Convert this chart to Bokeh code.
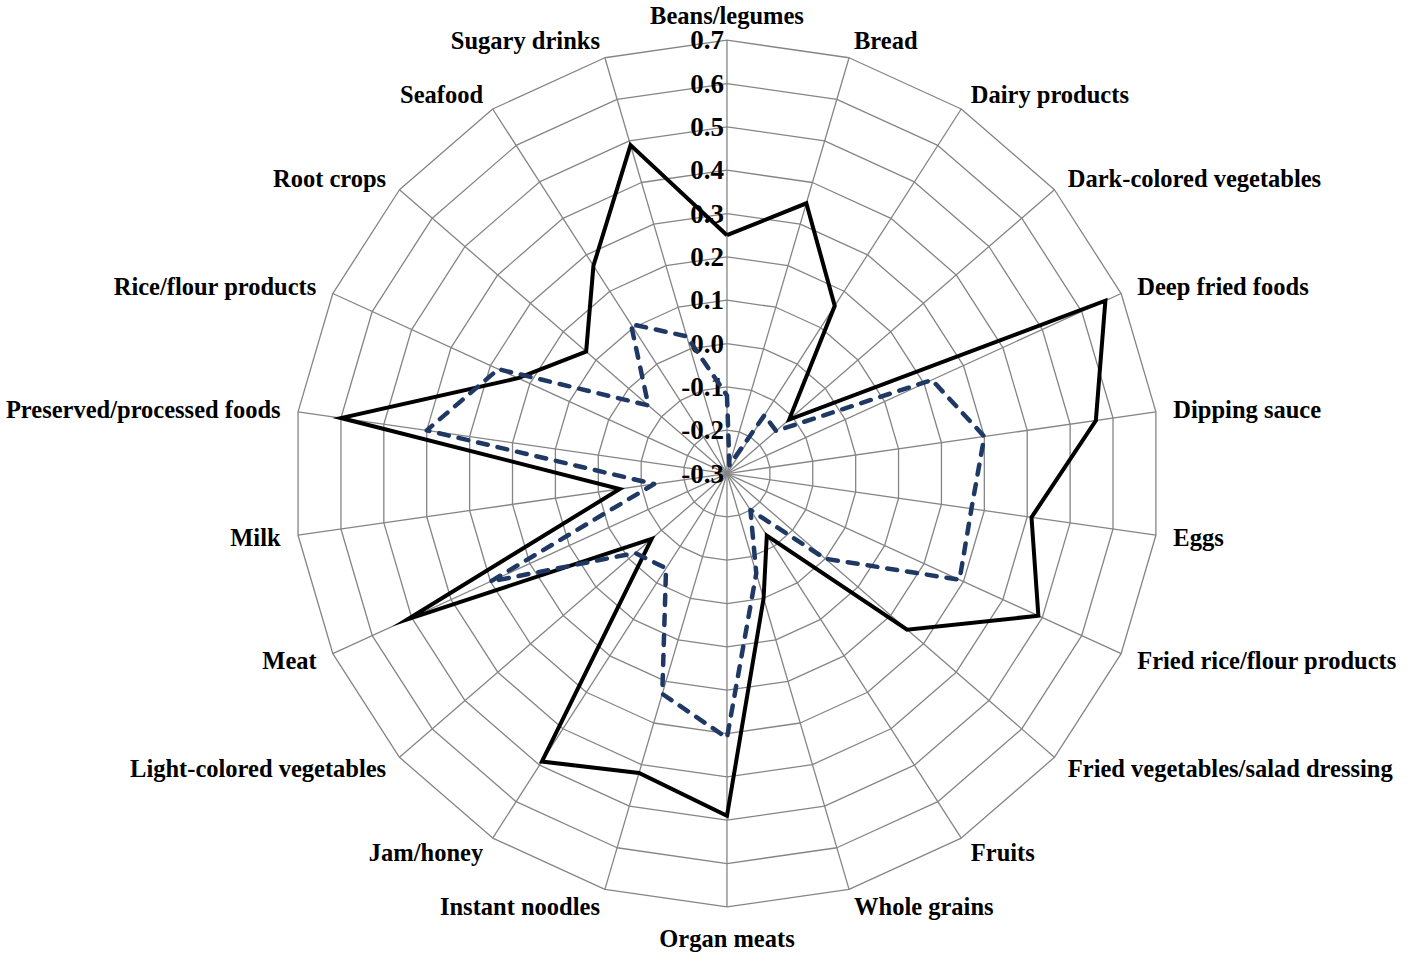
import numpy as np
from bokeh.plotting import figure
from bokeh.models import Range1d, ColumnDataSource
from bokeh.embed import file_html
from bokeh.resources import INLINE
from bokeh.core.properties import value

# ---------------- data ----------------
categories = [
    "Beans/legumes", "Bread", "Dairy products", "Dark-colored vegetables",
    "Deep fried foods", "Dipping sauce", "Eggs", "Fried rice/flour products",
    "Fried vegetables/salad dressing", "Fruits", "Whole grains", "Organ meats",
    "Instant noodles", "Jam/honey", "Light-colored vegetables", "Meat", "Milk",
    "Preserved/processed foods", "Rice/flour products", "Root crops",
    "Seafood", "Sugary drinks",
]
series_solid = [0.25, 0.35, 0.16, -0.11, 0.66, 0.56, 0.41, 0.49, 0.25, -0.13, 0.00,
                0.49, 0.42, 0.49, -0.07, 0.51, -0.05, 0.60, 0.23, 0.13, 0.27, 0.49]
series_dashed = [-0.12, -0.28, -0.14, -0.15, 0.22, 0.30, 0.27, 0.29, 0.00, -0.20, -0.06,
                 0.31, 0.23, -0.04, -0.02, 0.30, -0.13, 0.40, 0.28, -0.06, 0.11, 0.03]
tick_values = [-0.3, -0.2, -0.1, 0.0, 0.1, 0.2, 0.3, 0.4, 0.5, 0.6, 0.7]
tick_labels = ["-0.3", "-0.2", "-0.1", "0.0", "0.1", "0.2", "0.3", "0.4", "0.5", "0.6", "0.7"]
r_min, r_max = -0.3, 0.7

# ---------------- layout ----------------
W, H = 1400, 952
S = 0.9804                      # overall scale vs. reference
R = 442.0 * S                   # pixels per unit radius (outer ring)
cx = 4.9 + 736.0 * S            # centre in canvas px
cy = 482.5 * S

p = figure(width=W, height=H, output_backend="svg", toolbar_location=None,
           x_axis_type=None, y_axis_type=None, min_border=0,
           x_range=Range1d(-cx / R, (W - cx) / R),
           y_range=Range1d(-(H - cy) / R, cy / R))
p.outline_line_color = None
p.grid.visible = False
p.background_fill_color = "white"
p.border_fill_color = "white"

N = len(categories)
theta = 2 * np.pi * np.arange(N) / N
sin_t, cos_t = np.sin(theta), np.cos(theta)


def norm(v):
    return (np.asarray(v, dtype=float) - r_min) / (r_max - r_min)


grid_col = "#858585"

# rings
ring_xs, ring_ys = [], []
for tv in tick_values[1:]:
    rr = norm(tv)
    ring_xs.append(list(np.append(rr * sin_t, rr * sin_t[0])))
    ring_ys.append(list(np.append(rr * cos_t, rr * cos_t[0])))
p.multi_line(ring_xs, ring_ys, line_color=grid_col, line_width=1.3)

# spokes
p.multi_line([[0, s] for s in sin_t], [[0, c] for c in cos_t],
             line_color=grid_col, line_width=1.3)

# tick labels
p.text(x=[-3.0 / R] * len(tick_values), y=list(norm(tick_values)), text=tick_labels,
       text_align="right", text_baseline="middle",
       text_font=value("Liberation Serif"), text_font_style="bold",
       text_font_size="27px", text_color="black")

# category labels
off = 1.0 + 18.0 * S / R
lx, ly, la, lb = [], [], [], []
for i in range(N):
    lx.append(off * sin_t[i])
    ly.append(off * cos_t[i])
    if abs(sin_t[i]) < 1e-6:
        la.append("center")
        if cos_t[i] > 0:
            # top label: keep inside the canvas (top edge 1px below border)
            ly[-1] = (cy - 1.0) / R
            lb.append("top")
        else:
            lb.append("top")
    else:
        la.append("left" if sin_t[i] > 0 else "right")
        lb.append("middle")
src_lab = ColumnDataSource(dict(x=lx, y=ly, t=categories, a=la, b=lb))
p.text(x="x", y="y", text="t", text_align="a", text_baseline="b", source=src_lab,
       text_font=value("Liberation Serif"), text_font_style="bold",
       text_font_size="24.5px", text_color="black")

# series
for vals, col, dash, lw in [(series_solid, "black", "solid", 4),
                            (series_dashed, "#1f3864", "10 10", 4.5)]:
    rr = norm(vals)
    xs = list(np.append(rr * sin_t, rr[0] * sin_t[0]))
    ys = list(np.append(rr * cos_t, rr[0] * cos_t[0]))
    p.line(xs, ys, line_color=col, line_width=lw, line_dash=dash,
           line_join="miter" if dash == "solid" else "round",
           line_cap="butt" if dash == "solid" else "round")

open("out.html", "w").write(file_html(p, INLINE))
